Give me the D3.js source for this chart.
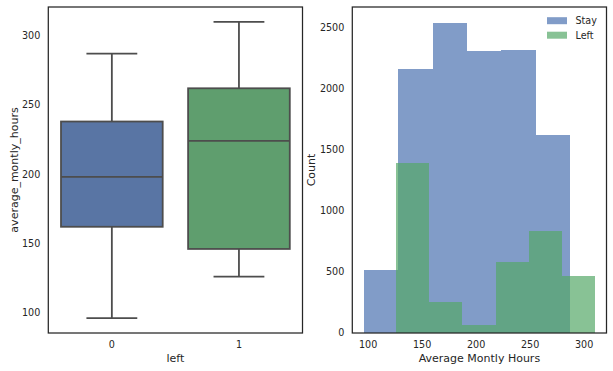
<!DOCTYPE html>
<html>
<head>
<meta charset="utf-8">
<script src="https://cdn.jsdelivr.net/npm/d3@7"></script>
<style>
  body { margin: 0; background: #fff; }
  svg { display: block; font-family: "DejaVu Sans", sans-serif; }
  text { fill: #262626; }
</style>
</head>
<body>
<svg id="drawing_region"></svg>
<script>
// boxplot: average_montly_hours by left
const box_categories = ["0", "1"];
const box_low    = [96, 126];
const box_q1     = [162, 146];
const box_median = [198, 224];
const box_q3     = [238, 262];
const box_high   = [287, 310];
const box_ticks  = [100, 150, 200, 250, 300];

// histogram: Stay vs Left
const stay_edges  = [96, 127.8, 159.7, 191.5, 223.3, 255.2, 287];
const stay_counts = [513, 2167, 2544, 2307, 2315, 1619];
const left_edges  = [126, 156.7, 187.3, 218, 248.7, 279.3, 310];
const left_counts = [1389, 251, 66, 579, 833, 464];
const hist_x_ticks = [100, 150, 200, 250, 300];
const hist_y_ticks = [0, 500, 1000, 1500, 2000, 2500];
const legend_labels = ["Stay", "Left"];

const W = 613, H = 371;
const svg = d3.select('#drawing_region').attr('width', W).attr('height', H);

const top_y = 7, bottom_y = 333;
const edge = '#262626';
const line_col = '#4d4d4d';
const tick_fs = 9.6, label_fs = 11;

// ---------- left panel: boxplot ----------
const p1 = {left: 48.3, right: 302.5};
const x1 = d3.scaleLinear().domain([-0.5, 1.5]).range([p1.left, p1.right]);
const y1 = d3.scaleLinear().domain([85.3, 320.7]).range([bottom_y, top_y]);
const box_fill = ['#5975a4', '#5f9e6e'];
const band = x1(1) - x1(0);

const g1 = svg.append('g');
box_categories.forEach((c, i) => {
  const cx = x1(i);
  const bw = band * 0.8, cw = band * 0.4;
  // whiskers
  g1.append('line').attr('x1', cx).attr('x2', cx)
    .attr('y1', y1(box_low[i])).attr('y2', y1(box_q1[i]))
    .attr('stroke', line_col).attr('stroke-width', 1.8);
  g1.append('line').attr('x1', cx).attr('x2', cx)
    .attr('y1', y1(box_q3[i])).attr('y2', y1(box_high[i]))
    .attr('stroke', line_col).attr('stroke-width', 1.8);
  // caps
  [box_low[i], box_high[i]].forEach(v => {
    g1.append('line').attr('x1', cx - cw / 2).attr('x2', cx + cw / 2)
      .attr('y1', y1(v)).attr('y2', y1(v))
      .attr('stroke', line_col).attr('stroke-width', 1.8);
  });
  // box
  g1.append('rect')
    .attr('x', cx - bw / 2).attr('width', bw)
    .attr('y', y1(box_q3[i])).attr('height', y1(box_q1[i]) - y1(box_q3[i]))
    .attr('fill', box_fill[i]).attr('stroke', line_col).attr('stroke-width', 1.8);
  // median
  g1.append('line').attr('x1', cx - bw / 2).attr('x2', cx + bw / 2)
    .attr('y1', y1(box_median[i])).attr('y2', y1(box_median[i]))
    .attr('stroke', line_col).attr('stroke-width', 1.8);
});

g1.selectAll('.ytick').data(box_ticks).enter().append('text')
  .attr('x', p1.left - 8).attr('y', d => y1(d)).attr('dy', '0.35em')
  .attr('text-anchor', 'end').attr('font-size', tick_fs).text(d => d);
g1.selectAll('.xtick').data(box_categories).enter().append('text')
  .attr('x', (d, i) => x1(i)).attr('y', 347.5)
  .attr('text-anchor', 'middle').attr('font-size', tick_fs).text(d => d);
g1.append('text').attr('x', (p1.left + p1.right) / 2).attr('y', 362)
  .attr('text-anchor', 'middle').attr('font-size', label_fs).text('left');
g1.append('text')
  .attr('transform', `translate(17.5, ${(top_y + bottom_y) / 2}) rotate(-90)`)
  .attr('text-anchor', 'middle').attr('font-size', label_fs).text('average_montly_hours');
g1.append('rect').attr('x', p1.left).attr('y', top_y)
  .attr('width', p1.right - p1.left).attr('height', bottom_y - top_y)
  .attr('fill', 'none').attr('stroke', edge).attr('stroke-width', 1.25);

// ---------- right panel: histogram ----------
const p2 = {left: 352.3, right: 606.5};
const x2 = d3.scaleLinear().domain([85.3, 320.7]).range([p2.left, p2.right]);
const y2 = d3.scaleLinear().domain([0, 2671]).range([bottom_y, top_y]);
const hist_col = ['#4c72b0', '#55a868'];

const g2 = svg.append('g');
[[stay_edges, stay_counts], [left_edges, left_counts]].forEach(([edges, counts], s) => {
  g2.selectAll(null).data(counts).enter().append('rect')
    .attr('x', (d, i) => x2(edges[i]))
    .attr('width', (d, i) => x2(edges[i + 1]) - x2(edges[i]))
    .attr('y', d => y2(d))
    .attr('height', d => y2(0) - y2(d))
    .attr('fill', hist_col[s]).attr('fill-opacity', 0.7)
    .attr('shape-rendering', 'crispEdges');
});

g2.selectAll('.ytick').data(hist_y_ticks).enter().append('text')
  .attr('x', p2.left - 8).attr('y', d => y2(d)).attr('dy', '0.35em')
  .attr('text-anchor', 'end').attr('font-size', tick_fs).text(d => d);
g2.selectAll('.xtick').data(hist_x_ticks).enter().append('text')
  .attr('x', d => x2(d)).attr('y', 347.5)
  .attr('text-anchor', 'middle').attr('font-size', tick_fs).text(d => d);
g2.append('text').attr('x', (p2.left + p2.right) / 2).attr('y', 362)
  .attr('text-anchor', 'middle').attr('font-size', label_fs).text('Average Montly Hours');
g2.append('text')
  .attr('transform', `translate(314.5, ${(top_y + bottom_y) / 2}) rotate(-90)`)
  .attr('text-anchor', 'middle').attr('font-size', label_fs).text('Count');

// legend
legend_labels.forEach((lab, i) => {
  const ly = 20.7 + i * 14.5;
  g2.append('rect').attr('x', 547).attr('y', ly - 3.5).attr('width', 20).attr('height', 7)
    .attr('fill', hist_col[i]).attr('fill-opacity', 0.7);
  g2.append('text').attr('x', 575.5).attr('y', ly).attr('dy', '0.35em')
    .attr('font-size', 9.6).text(lab);
});

g2.append('rect').attr('x', p2.left).attr('y', top_y)
  .attr('width', p2.right - p2.left).attr('height', bottom_y - top_y)
  .attr('fill', 'none').attr('stroke', edge).attr('stroke-width', 1.25);
</script>
</body>
</html>
